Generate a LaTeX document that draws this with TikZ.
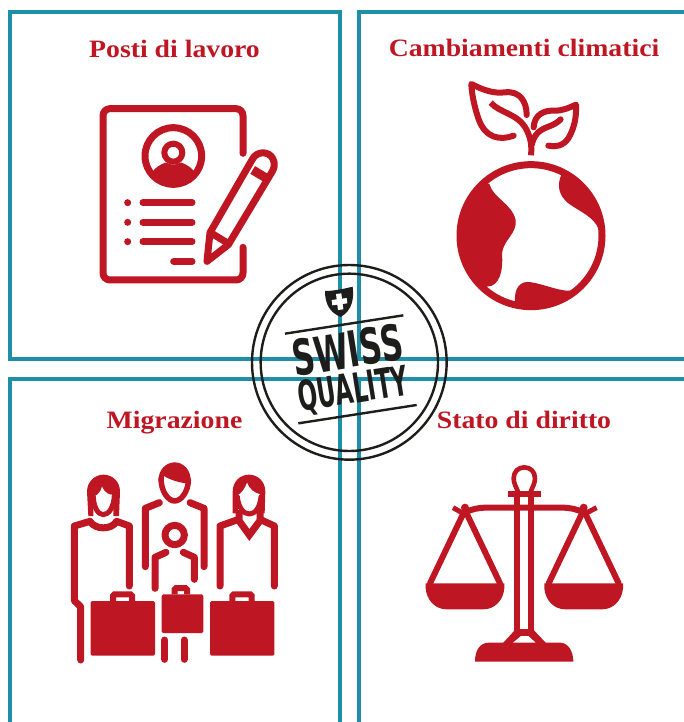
\documentclass[tikz,border=0pt]{standalone}
\usepackage{fontspec}
\setmainfont{Liberation Serif}
\newfontfamily\headfont[FakeStretch=1.11]{Liberation Serif}
\newfontfamily\stampfont{DejaVu Sans}
\definecolor{ired}{HTML}{BE1622}
\definecolor{iteal}{HTML}{1F8FA8}
\definecolor{iink}{HTML}{1D1D1B}
\tikzset{
  panel/.style={draw=iteal,line width=4pt},
  heading/.style={text=ired,font=\headfont\fontsize{25}{26}\selectfont\bfseries,anchor=base,inner sep=0pt},
  zoomed/.style={x=0.33333pt,y=-0.33333pt},
  ic/.style={draw=ired,line width=#1,line cap=round,line join=round,fill=none},
  ic/.default=7pt,
  bag/.style={fill=ired,draw=none,rounded corners=1.5pt},
  stampline/.style={draw=iink,line width=2.4pt},
  stamptext/.style={text=iink,font=\stampfont\bfseries,inner sep=0pt,transform shape}
}
\begin{document}
\begin{tikzpicture}[x=1pt,y=-1pt]
\useasboundingbox (0,0) rectangle (684,722);
\clip (0,0) rectangle (684,722);
\fill[white] (0,0) rectangle (684,722);
% panels
\draw[panel] (9.5,12.5) rectangle (340,359);
\draw[panel] (359,12.5) rectangle (700,359);
\draw[panel] (9.5,378.5) rectangle (340,740);
\draw[panel] (359,378.5) rectangle (700,740);
% headings
\node[heading] (h1) at (174.5,57.5) {Posti di lavoro};
\node[heading] (h2) at (524,57) {Cambiamenti climatici};
\node[heading] (h3) at (174.5,428) {Migrazione};
\node[heading] (h4) at (524,428) {Stato di diritto};

% document icon
\begin{scope}[shift={(80,90)},zoomed]
\draw[ic,rounded corners=7pt] (489,190) -- (489,56) -- (69,56) -- (69,570) -- (489,570) -- (489,472);
\draw[ic] (280,198) circle (85);
\begin{scope}
\clip (280,198) circle (88);
\fill[ired] (205,270) -- (216,248) .. controls (225,232) and (240,225) .. (255,218) -- (305,218) .. controls (322,225) and (335,232) .. (344,248) -- (355,270) -- (280,300) -- cycle;
\end{scope}
\fill[white] (280,188) circle (36);
\draw[ic=6pt] (280,188) circle (27);
\foreach \yy in {338,397,455}{
  \fill[ired] (143,\yy) circle (10.5);
  \draw[ic] (189,\yy) -- (336,\yy);
}
\draw[ic] (281,514) -- (336,514);
% pencil
\draw[ic] (381,514) -- (390,428) -- (517,208) .. controls (530,183) and (565,182) .. (578,205) .. controls (587,222) and (582,235) .. (577,244) -- (445,464) -- cycle;
\draw[ic=9pt,line cap=butt] (518,240) -- (560,265);
\draw[ic,line cap=butt] (392,428) -- (447,462);
\end{scope}

% globe and leaves
\begin{scope}[shift={(440,70)},zoomed]
\draw[ic] (273,497) circle (213);
\begin{scope}
\clip (273,497) circle (215);
\fill[ired] (148,342) .. controls (160,385) and (215,400) .. (227,450) .. controls (232,490) and (190,510) .. (186,550) .. controls (190,600) and (180,650) .. (140,650) -- (30,700) -- (20,300) -- cycle;
\fill[ired] (365,312) .. controls (350,345) and (355,375) .. (385,400) .. controls (420,425) and (460,440) .. (475,475) -- (520,400) -- (420,280) -- cycle;
\fill[ired] (225,695) .. controls (222,655) and (240,630) .. (275,637) .. controls (320,645) and (360,665) .. (395,662) -- (480,600) -- (450,760) -- (200,760) -- cycle;
\end{scope}
\draw[ic=6pt,line cap=butt] (273,256) .. controls (276,225) and (272,205) .. (260,180) .. controls (235,130) and (180,130) .. (152,98);
\draw[ic=6pt] (221,197) .. controls (180,212) and (135,205) .. (115,145) .. controls (103,110) and (95,70) .. (94,42) .. controls (125,58) and (160,72) .. (195,67) .. controls (240,62) and (260,95) .. (260,135);
\draw[ic=6pt] (281,172) .. controls (283,135) and (310,120) .. (345,122) .. controls (370,122) and (390,112) .. (408,104) .. controls (410,140) and (403,175) .. (385,205) .. controls (370,228) and (345,232) .. (325,227);
\draw[ic=6pt,line cap=butt] (275,225) .. controls (283,190) and (300,180) .. (325,170);
\draw[ic=6pt] (325,170) .. controls (340,165) and (352,158) .. (362,148);
\end{scope}

% migrants
\begin{scope}[shift={(60,450)},zoomed]
% left woman
\draw[ic] (208,408) -- (208,228) -- (170,214) .. controls (155,240) and (105,240) .. (90,214) -- (43,228) -- (43,452) -- (62,470) -- (62,630);
\fill[ired] (85,198) -- (81,125) .. controls (81,95) and (105,74) .. (130,74) .. controls (158,74) and (180,95) .. (180,125) -- (177,198) -- (160,198) -- (160,170) -- (100,170) -- (100,198) -- cycle;
\fill[white] (101,140) .. controls (115,135) and (122,125) .. (126,110) .. controls (135,130) and (150,138) .. (162,132) .. controls (162,165) and (148,188) .. (130,188) .. controls (112,188) and (102,165) .. (101,140) -- cycle;
\draw[ic=5pt] (100,140) .. controls (101,170) and (113,194) .. (130,194) .. controls (147,194) and (162,170) .. (163,135);
% man
\draw[ic] (256,350) -- (256,175) -- (298,158);
\draw[ic] (390,158) -- (432,175) -- (432,350);
\fill[ired] (296,92) .. controls (294,60) and (318,37) .. (344,37) .. controls (370,37) and (394,60) .. (392,95) -- (378,100) .. controls (360,98) and (330,90) .. (312,78) -- (308,100) -- cycle;
\draw[ic=5.5pt] (303,85) .. controls (303,125) and (325,153) .. (344,153) .. controls (363,153) and (385,125) .. (385,90);
% child
\draw[ic] (344,255) circle (29);
\draw[ic] (285,415) -- (285,322) -- (318,307);
\draw[ic] (370,307) -- (403,322) -- (403,388);
\draw[ic] (314,570) -- (314,628);
\draw[ic] (372,570) -- (372,628);
% right woman
\draw[ic] (480,408) -- (480,228) -- (536,208);
\draw[ic] (600,208) -- (643,228) -- (643,408);
\draw[ic,line join=miter] (537,190) -- (537,212) -- (568,255) -- (600,212) -- (600,190);
\fill[ired] (518,190) -- (518,125) .. controls (518,95) and (540,74) .. (567,74) .. controls (594,74) and (616,95) .. (616,125) -- (614,190) -- (598,190) -- (598,150) -- (535,150) -- (533,190) -- cycle;
\fill[white] (534,135) .. controls (545,130) and (555,115) .. (561,98) .. controls (568,118) and (585,130) .. (601,133) .. controls (600,165) and (585,186) .. (568,186) .. controls (550,186) and (535,165) .. (534,135) -- cycle;
\draw[ic=5pt] (532,140) .. controls (535,172) and (550,192) .. (568,192) .. controls (586,192) and (600,172) .. (603,140);
% suitcases
\fill[bag] (92,453) rectangle (285,617);
\draw[ired,line width=6pt,rounded corners=1.5pt] (159,453) -- (159,433) -- (216,433) -- (216,453);
\fill[bag] (305,433) rectangle (430,549);
\draw[ired,line width=6pt,rounded corners=1.5pt] (344,433) -- (344,414) -- (381,414) -- (381,433);
\fill[bag] (450,453) rectangle (643,617);
\draw[ired,line width=6pt,rounded corners=1.5pt] (517,453) -- (517,433) -- (575,433) -- (575,453);
\end{scope}

% scales
\begin{scope}[shift={(415,455)},zoomed]
\draw[ic=4.6pt,line cap=butt] (309,110) .. controls (303,95) and (296,85) .. (296,70) .. controls (296,50) and (310,37) .. (328,37) .. controls (346,37) and (360,50) .. (360,70) .. controls (360,85) and (353,95) .. (347,110);
\fill[ired] (278,108) rectangle (378,127);
\draw[ic=6pt,line cap=butt] (307,127) -- (307,530);
\draw[ic=6pt,line cap=butt] (349,127) -- (349,530);
\fill[ired] (316,523) rectangle (340,543);
\draw[ic=6pt,line cap=butt] (150,173) .. controls (170,162) and (190,158) .. (215,158) -- (440,158) .. controls (465,158) and (485,162) .. (506,173);
\foreach \dx in {0,356}{
  \begin{scope}[xshift=\dx*0.33333pt]
  \draw[ic=6pt] (150,165) -- (45,385);
  \draw[ic=6pt] (150,165) -- (255,385);
  \fill[ired] (150,158) circle (12);
  \fill[ired] (32,385) -- (268,385) -- (268,400) .. controls (265,435) and (240,463) .. (205,463) -- (95,463) .. controls (60,463) and (35,435) .. (32,400) -- cycle;
  \end{scope}
}
\draw[ic=5pt,line cap=butt] (114,158) -- (150,178);
\draw[ic=5pt,line cap=butt] (545,158) -- (506,178);
\fill[ired] (180,620) .. controls (180,585) and (195,563) .. (222,563) -- (265,563) -- (300,525) -- (356,525) -- (392,563) -- (435,563) .. controls (460,563) and (475,590) .. (475,620) -- cycle;
\fill[white] (318,543) -- (340,543) -- (362,563) -- (294,563) -- cycle;
\end{scope}

% stamp
\begin{scope}[shift={(240,255)},zoomed]
\draw[stampline] (328,322) circle (292);
\draw[stampline] (328,322) circle (266);
\draw[stampline] (135,236) -- (490,181);
\draw[stampline] (175,505) -- (530,450);
\fill[iink] (255,108) .. controls (280,108) and (310,102) .. (338,95) .. controls (342,130) and (338,165) .. (302,186) .. controls (268,172) and (255,145) .. (255,108) -- cycle;
\fill[white] (288,117) -- (304,115) -- (306,131) -- (320,129) -- (322,145) -- (308,147) -- (310,163) -- (294,165) -- (292,149) -- (277,151) -- (275,135) -- (290,133) -- cycle;
\end{scope}
\node[stamptext,rotate=9,xscale=0.69,yscale=1.1] (swiss) at (347.3,350) {\fontsize{45}{46}\selectfont SWISS};
\node[stamptext,rotate=9,xscale=0.64,yscale=1.15] (quality) at (353.5,391) {\fontsize{36}{37}\selectfont QUALITY};
\end{tikzpicture}
\end{document}
